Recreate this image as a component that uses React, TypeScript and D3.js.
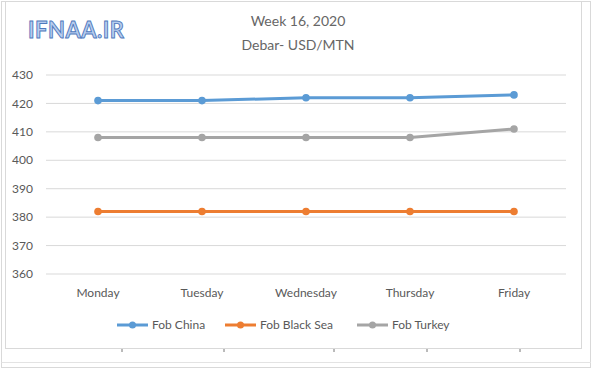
import React from 'react'
import * as d3 from 'd3'

const days = ['Monday', 'Tuesday', 'Wednesday', 'Thursday', 'Friday']
const fobChina = [421, 421, 422, 422, 423]
const fobBlackSea = [382, 382, 382, 382, 382]
const fobTurkey = [408, 408, 408, 408, 411]
const yTicks = [360, 370, 380, 390, 400, 410, 420, 430]

const series = [
  { name: 'Fob China', values: fobChina, color: '#5B9BD5' },
  { name: 'Fob Black Sea', values: fobBlackSea, color: '#ED7D31' },
  { name: 'Fob Turkey', values: fobTurkey, color: '#A5A5A5' },
]

const font = 'Lato, "Open Sans", sans-serif'

const App = () => {
  const width = 600
  const height = 385
  const margin = { top: 75, right: 34, bottom: 111, left: 46 }
  const innerWidth = width - margin.left - margin.right
  const innerHeight = height - margin.top - margin.bottom

  const xScale = d3.scaleBand().domain(days).range([0, innerWidth])
  const yScale = d3.scaleLinear().domain([360, 430]).range([innerHeight, 0])

  const line = d3.line<number>()
    .x((d, i) => xScale(days[i])! + xScale.bandwidth() / 2)
    .y(d => yScale(d))

  // legend positions
  const legendX = [117, 225, 357]

  return (
    <svg width={width} height={height} style={{ position: 'absolute', left: 0, top: 0 }}>
      <rect x={0} y={0} width={width} height={height} fill="#fff" />
      {/* outer frames */}
      <rect x={1.5} y={1.5} width={589} height={366} fill="none" stroke="#d9d9d9" />
      <rect x={5.5} y={1.5} width={576} height={347} fill="none" stroke="#d9d9d9" />
      <line x1={1.5} x2={591} y1={362.5} y2={362.5} stroke="#e3e3e3" />

      {/* title */}
      <text x={298} y={26} textAnchor="middle" fontFamily={font} fontSize={14} fill="#666">Week 16, 2020</text>
      <text x={298} y={50} textAnchor="middle" fontFamily={font} fontSize={14} fill="#666">Debar- USD/MTN</text>

      {/* logo */}
      <text x={28} y={38} fontFamily={'Lato, sans-serif'} fontSize={22} fontWeight="bold"
        fill="#b7cdee" stroke="#4f79bd" strokeWidth={0.9} letterSpacing={0.5}>IFNAA.IR</text>

      <g transform={`translate(${margin.left},${margin.top})`}>
        {yTicks.map((t, i) => (
          <g key={i} transform={`translate(0,${yScale(t)})`}>
            <line x1={0} x2={innerWidth} stroke="#d9d9d9" strokeWidth={1} />
            <text x={-13} dy=".35em" textAnchor="end" fontFamily={font} fontSize={12} fill="#595959">{t}</text>
          </g>
        ))}
        {days.map((d, i) => (
          <text key={i} x={xScale(d)! + xScale.bandwidth() / 2} y={innerHeight + 23}
            textAnchor="middle" fontFamily={font} fontSize={12} fill="#595959">{d}</text>
        ))}
        {series.map((s, i) => (
          <g key={i}>
            <path d={line(s.values)!} fill="none" stroke={s.color} strokeWidth={3} strokeLinecap="round" />
            {s.values.map((v, j) => (
              <circle key={j} cx={xScale(days[j])! + xScale.bandwidth() / 2} cy={yScale(v)} r={3.8} fill={s.color} />
            ))}
          </g>
        ))}
      </g>

      {/* legend */}
      {series.map((s, i) => (
        <g key={i} transform={`translate(${legendX[i]},325)`}>
          <line x1={0} x2={31} stroke={s.color} strokeWidth={3} />
          <circle cx={15.5} cy={0} r={3.5} fill={s.color} />
          <text x={35} dy=".35em" fontFamily={font} fontSize={12} fill="#595959">{s.name}</text>
        </g>
      ))}

      {/* small tick marks under the chart box */}
      {[122, 224, 334, 427, 520].map((x, i) => (
        <line key={i} x1={x} x2={x} y1={349} y2={352} stroke="#777" strokeWidth={1} />
      ))}
    </svg>
  )
}

export default App
